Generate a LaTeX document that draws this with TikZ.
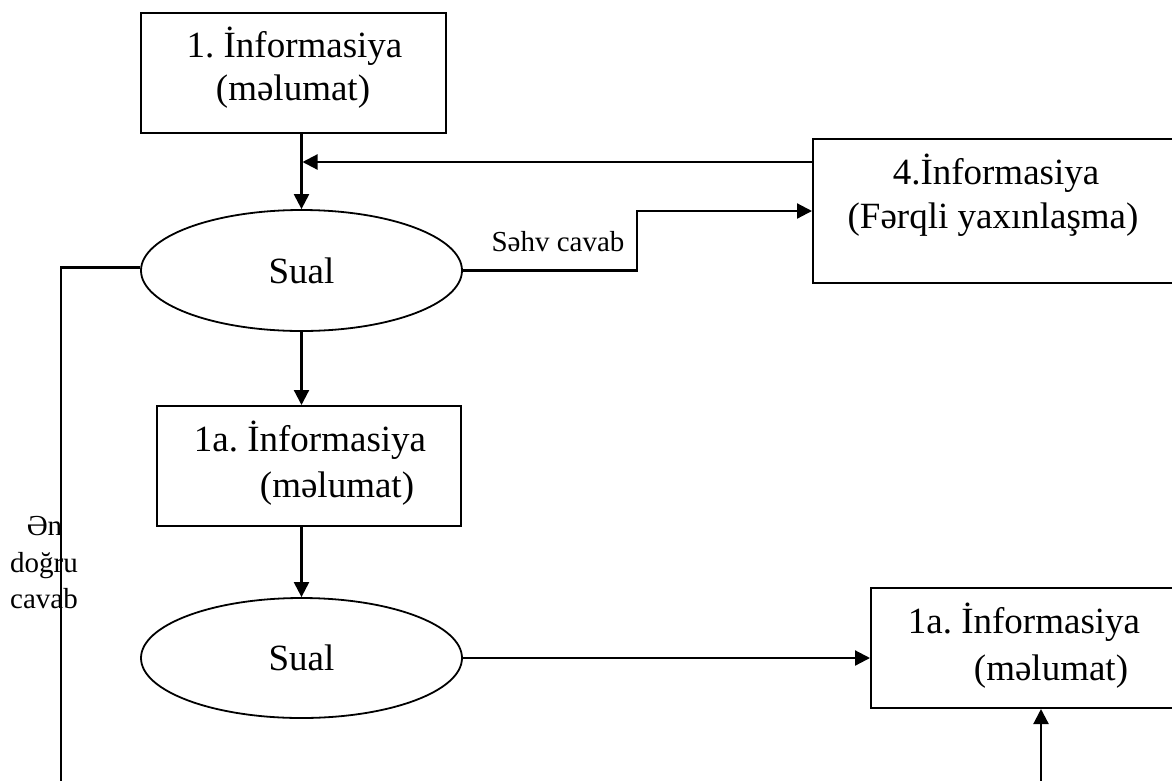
\documentclass[tikz,border=0pt]{standalone}
\usepackage{fontspec}
\setmainfont{Liberation Serif}
\frenchspacing
\usetikzlibrary{arrows.meta,shapes.geometric,calc}
\tikzset{
  boxnode/.style={draw, line width=2pt, rectangle, inner sep=0pt},
  ovalnode/.style={draw, line width=1.8pt, ellipse, inner sep=0pt, font=\fontsize{37}{44}\selectfont},
  bigtxt/.style={font=\fontsize{37}{44}\selectfont, inner sep=0pt, anchor=base},
  smalltxt/.style={font=\fontsize{29}{34}\selectfont, inner sep=0pt, anchor=base},
  conn/.style={line width=2.2pt},
  arr/.style={line width=2.2pt, -{Triangle[length=15pt,width=15pt]}}
}
\begin{document}
\begin{tikzpicture}[x=1pt,y=-1pt]
\useasboundingbox (0,0) rectangle (1172,780);
\clip (0,0) rectangle (1172,780);
\fill[white] (0,0) rectangle (1172,780);
% boxes
\node[boxnode, minimum width=305pt, minimum height=120pt] (b1) at (293.5,73) {};
\node[boxnode, minimum width=367pt, minimum height=144pt] (b4) at (996.5,211) {};
\node[boxnode, minimum width=304pt, minimum height=120pt] (b1a) at (309,466) {};
\node[boxnode, minimum width=309pt, minimum height=120pt] (b2) at (1025.5,648) {};
% ellipses
\node[ovalnode, minimum width=321pt, minimum height=121pt] (e1) at (301.5,270.5) {Sual};
\node[ovalnode, minimum width=321pt, minimum height=120pt] (e2) at (301.5,658) {Sual};
% box texts
\node[bigtxt] (t1a) at (294.5,57) {1. İnformasiya};
\node[bigtxt] (t1b) at (293,100) {(məlumat)};
\node[bigtxt] (t4a) at (996,184) {4.İnformasiya};
\node[bigtxt] (t4b) at (993,228) {(Fərqli yaxınlaşma)};
\node[bigtxt] (t5a) at (310,451) {1a. İnformasiya};
\node[bigtxt] (t5b) at (337,497) {(məlumat)};
\node[bigtxt] (t6a) at (1024,633) {1a. İnformasiya};
\node[bigtxt] (t6b) at (1051,680) {(məlumat)};
% labels
\node[smalltxt] (ls) at (558,251) {Səhv cavab};
\node[smalltxt] (la1) at (44.5,535) {Ən};
\node[smalltxt] (la2) at (44,572) {doğru};
\node[smalltxt] (la3) at (44,608) {cavab};
% coordinates
\coordinate (fb) at (302.5,162);
\coordinate (sx) at (637,211);
\coordinate (lb) at (61,782);
\coordinate (ub) at (1041,782);
% connectors
\draw[arr] (e1.north |- b1.south) -- (e1.north);
\draw[arr] (b4.west |- fb) -- (fb);
\draw[arr] (e1.east) -| (sx) -- (b4.west);
\draw[conn] ($(e1.west)+(0,-3)$) -| (lb);
\draw[arr] (e1.south) -- (e1.south |- b1a.north);
\draw[arr] (e2.north |- b1a.south) -- (e2.north);
\draw[arr] (e2.east) -- (e2.east -| b2.west);
\draw[arr] (ub) -- (ub |- b2.south);
\end{tikzpicture}
\end{document}
